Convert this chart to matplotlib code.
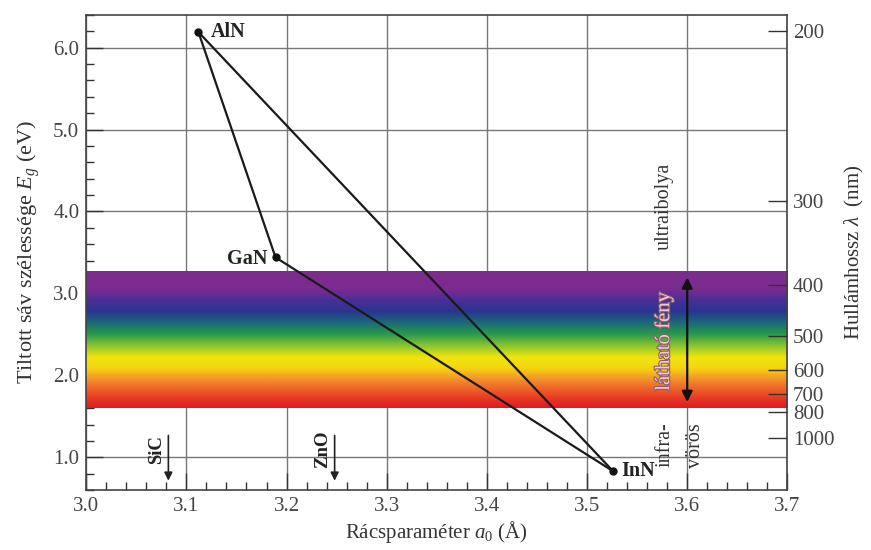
import matplotlib
matplotlib.use("Agg")
import matplotlib.pyplot as plt
import matplotlib.patheffects as pe
import numpy as np
from matplotlib.colors import LinearSegmentedColormap

plt.rcParams["font.family"] = ["Liberation Serif", "DejaVu Serif"]
plt.rcParams["mathtext.fontset"] = "custom"
plt.rcParams["mathtext.it"] = "Liberation Serif:italic"
plt.rcParams["mathtext.rm"] = "Liberation Serif"

# nitrides: lattice parameter (Å) and band gap (eV)
materials = ["AlN", "GaN", "InN"]
lattice = [3.112, 3.189, 3.526]
gap = [6.19, 3.44, 0.83]
triangle = [("AlN", "GaN"), ("GaN", "InN"), ("AlN", "InN")]

# substrate markers on the x axis
substrates = ["SiC", "ZnO"]
substrate_a = [3.082, 3.248]

# visible band (eV) and its colours from bottom to top
band_low, band_high = 1.60, 3.27
band_stops = [1.60, 1.72, 1.85, 1.97, 2.04, 2.10, 2.22, 2.36, 2.50, 2.64, 2.78, 2.92, 3.05, 3.27]
band_colors = ["#e01b22", "#e83a25", "#ef6a2a", "#f39a2a", "#f6c018", "#f5d810",
               "#f0e40e", "#8ac530", "#2a9a4a", "#1a6a78", "#2a3590", "#4a2f96",
               "#7a2b8f", "#7d2d8c"]

# wavelength ticks for right axis (nm)
wavelengths = [200, 300, 400, 500, 600, 700, 800, 1000]

fig = plt.figure(figsize=(8.71, 5.5), dpi=100)
ax = fig.add_axes([0.099, 0.109, 0.805, 0.864])

ax.set_xlim(3.0, 3.7)
ax.set_ylim(0.6, 6.4)

ax.set_xticks(np.arange(3.0, 3.71, 0.1))
ax.set_xticks(np.arange(3.0, 3.701, 0.02), minor=True)
ax.set_yticks([1.0, 2.0, 3.0, 4.0, 5.0, 6.0])
ax.set_yticks(np.arange(0.6, 6.41, 0.2), minor=True)
ax.xaxis.set_major_formatter(plt.FormatStrFormatter("%.1f"))
ax.yaxis.set_major_formatter(plt.FormatStrFormatter("%.1f"))
ax.tick_params(which="major", direction="in", length=12, width=1, labelsize=15,
               colors="#333333", labelcolor="#444444", pad=5)
ax.tick_params(which="minor", direction="in", length=6, width=1, colors="#333333")
ax.tick_params(axis="y", right=False)
ax.tick_params(axis="x", top=False)
ax.grid(True, which="major", color="#777777", linewidth=1.0)
ax.set_axisbelow(True)
for s in ax.spines.values():
    s.set_color("#444444")
    s.set_linewidth(1.2)

# visible spectrum band
cmap = LinearSegmentedColormap.from_list(
    "spec", list(zip([(v - band_low) / (band_high - band_low) for v in band_stops], band_colors)))
grad = np.linspace(0, 1, 256).reshape(-1, 1)
ax.imshow(grad, cmap=cmap, origin="lower", aspect="auto",
          extent=[3.0, 3.7, band_low, band_high], zorder=1.5)
ax.set_xlim(3.0, 3.7)
ax.set_ylim(0.6, 6.4)

# triangle of nitrides
pos = {m: (x, y) for m, x, y in zip(materials, lattice, gap)}
for a, b in triangle:
    ax.plot([pos[a][0], pos[b][0]], [pos[a][1], pos[b][1]], color="#1a1a1a", lw=1.6, zorder=3)
ax.plot(lattice, gap, "o", color="#111111", ms=5, zorder=4)

label_offsets = {"AlN": (0.012, 0.0, "left"), "GaN": (-0.008, -0.02, "right"), "InN": (0.008, 0.0, "left")}
for m, x, y in zip(materials, lattice, gap):
    dx, dy, ha = label_offsets[m]
    ax.text(x + dx, y + dy, m, ha=ha, va="center", fontsize=14.5, fontweight="bold",
            color="#222222", zorder=5)

# substrate arrows
for name, a in zip(substrates, substrate_a):
    ax.annotate("", xy=(a, 0.68), xytext=(a, 1.3),
                arrowprops=dict(arrowstyle="-|>", color="#222222", lw=1.2,
                                mutation_scale=12), zorder=4)
    ax.text(a - 0.012, 1.1, name, rotation=90, ha="center", va="center",
            fontsize=13.5, fontweight="bold", color="#222222")

# visible light arrow
ax.annotate("", xy=(3.6, 1.64), xytext=(3.6, 3.23),
            arrowprops=dict(arrowstyle="<|-|>", color="#111111", lw=1.6,
                            mutation_scale=16), zorder=4)
ax.text(3.577, 2.42, "látható fény", rotation=90, ha="center", va="center",
        fontsize=15, color="#f6c8cf", zorder=5,
        path_effects=[pe.withStroke(linewidth=1.5, foreground="#8a5a6a")])
ax.text(3.577, 4.06, "ultraibolya", rotation=90, ha="center", va="center",
        fontsize=14.5, color="#333333")
ax.text(3.578, 1.15, "infra-", rotation=90, ha="center", va="center",
        fontsize=14.5, color="#333333")
ax.text(3.608, 1.14, "vörös", rotation=90, ha="center", va="center",
        fontsize=14.5, color="#333333")

ax.set_xlabel("Rácsparaméter $a_0$ (Å)", fontsize=15, color="#333333", labelpad=2)
ax.set_ylabel("Tiltott sáv szélessége $E_g$ (eV)", fontsize=16, color="#333333", labelpad=8)

# right axis: wavelength
ax2 = ax.twinx()
ax2.set_ylim(0.6, 6.4)
ax2.set_yticks([1240.0 / w for w in wavelengths])
ax2.set_yticklabels([str(w) for w in wavelengths])
ax2.tick_params(direction="in", length=14, width=1, labelsize=15,
                colors="#333333", labelcolor="#444444", pad=4)
ax2.set_ylabel("Hullámhossz $\\lambda$  (nm)", fontsize=15, color="#333333", labelpad=6)
for s in ax2.spines.values():
    s.set_visible(False)

fig.savefig("out.png", dpi=100)
